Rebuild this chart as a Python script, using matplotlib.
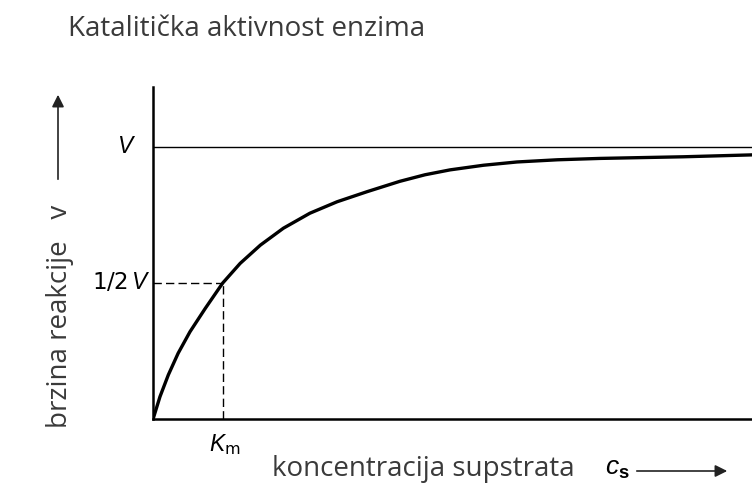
import matplotlib
matplotlib.use('Agg')
import matplotlib.pyplot as plt

# Michaelis-Menten curve (x in units of Km, y in units of V)
conc = [0.0, 0.10, 0.22, 0.36, 0.53, 0.75, 1.0, 1.25, 1.54, 1.87, 2.25, 2.64,
        3.07, 3.54, 3.90, 4.26, 4.74, 5.22, 5.80, 6.41, 7.00, 7.60, 8.59]
rate = [0.0, 0.083, 0.163, 0.242, 0.321, 0.407, 0.5, 0.572, 0.639, 0.701, 0.756,
        0.798, 0.835, 0.873, 0.897, 0.915, 0.932, 0.944, 0.952, 0.957, 0.960,
        0.963, 0.970]
v_max = 1.0
km = 1.0

title = 'Katalitička aktivnost enzima'
ylab = 'brzina reakcije   v'
xlab = 'koncentracija supstrata'

plt.rcParams['mathtext.fontset'] = 'custom'
plt.rcParams['mathtext.rm'] = 'Liberation Sans'
plt.rcParams['mathtext.it'] = 'Liberation Sans:italic'
plt.rcParams['mathtext.bf'] = 'Liberation Sans:bold'

W, H = 752, 498
fig = plt.figure(figsize=(W / 100, H / 100), dpi=100)
ax = fig.add_axes([153 / W, (H - 419.3) / H, (W - 153) / W, (419.3 - 87) / H])

# curve
ax.plot(conc, rate, color='black', lw=2.4, solid_capstyle='round', solid_joinstyle='round')
# V line
ax.axhline(v_max, color='black', lw=1.0)
# dashed guides at Km / half V
ax.plot([0, km], [v_max / 2, v_max / 2], color='black', lw=1.0, ls=(0, (6, 3)))
ax.plot([km, km], [0, v_max / 2], color='black', lw=1.0, ls=(0, (6, 3)))

ax.set_xlim(0, conc[-1])
ax.set_ylim(0, 1.219)
ax.set_xticks([])
ax.set_yticks([])
for s in ['top', 'right']:
    ax.spines[s].set_visible(False)
for s in ['left', 'bottom']:
    ax.spines[s].set_linewidth(1.8)
    ax.spines[s].set_color('black')

# value labels
ax.annotate('$\\mathit{V}$', xy=(0, v_max), xytext=(-17, 0), textcoords='offset pixels',
            ha='right', va='center', fontsize=16.5)
ax.annotate('$\\mathregular{1/2}\\,\\mathit{V}$', xy=(0, v_max / 2), xytext=(-3, 0),
            textcoords='offset pixels', ha='right', va='center', fontsize=16.5)
ax.annotate('$K_\\mathregular{m}$', xy=(km, 0), xytext=(2, -25), textcoords='offset pixels',
            ha='center', va='center', fontsize=16.5)

# texts
txt_col = '#3a3a3a'
fig.text(68 / W, 1 - 29 / H, title, fontsize=20, family='Open Sans', color=txt_col,
         ha='left', va='center')
fig.text(272 / W, 1 - 469 / H, xlab, fontsize=20, family='Open Sans', color=txt_col,
         ha='left', va='center')
fig.text(60 / W, 1 - 428 / H, ylab, fontsize=20, family='Open Sans', color=txt_col,
         ha='center', va='bottom', rotation=90)
fig.text(617 / W, 1 - 468 / H, '$\\mathit{c}_\\mathbf{s}$', fontsize=19, color='black',
         ha='center', va='center')

# axis arrows
ax.annotate('', xy=(58, H - 92), xytext=(58, H - 182), xycoords='figure pixels',
            textcoords='figure pixels',
            arrowprops=dict(arrowstyle='-|>', lw=1.2, color='#222222', mutation_scale=18))
ax.annotate('', xy=(730, H - 471), xytext=(634, H - 471), xycoords='figure pixels',
            textcoords='figure pixels',
            arrowprops=dict(arrowstyle='-|>', lw=1.2, color='#222222', mutation_scale=18))

fig.savefig('out.png', dpi=100)
